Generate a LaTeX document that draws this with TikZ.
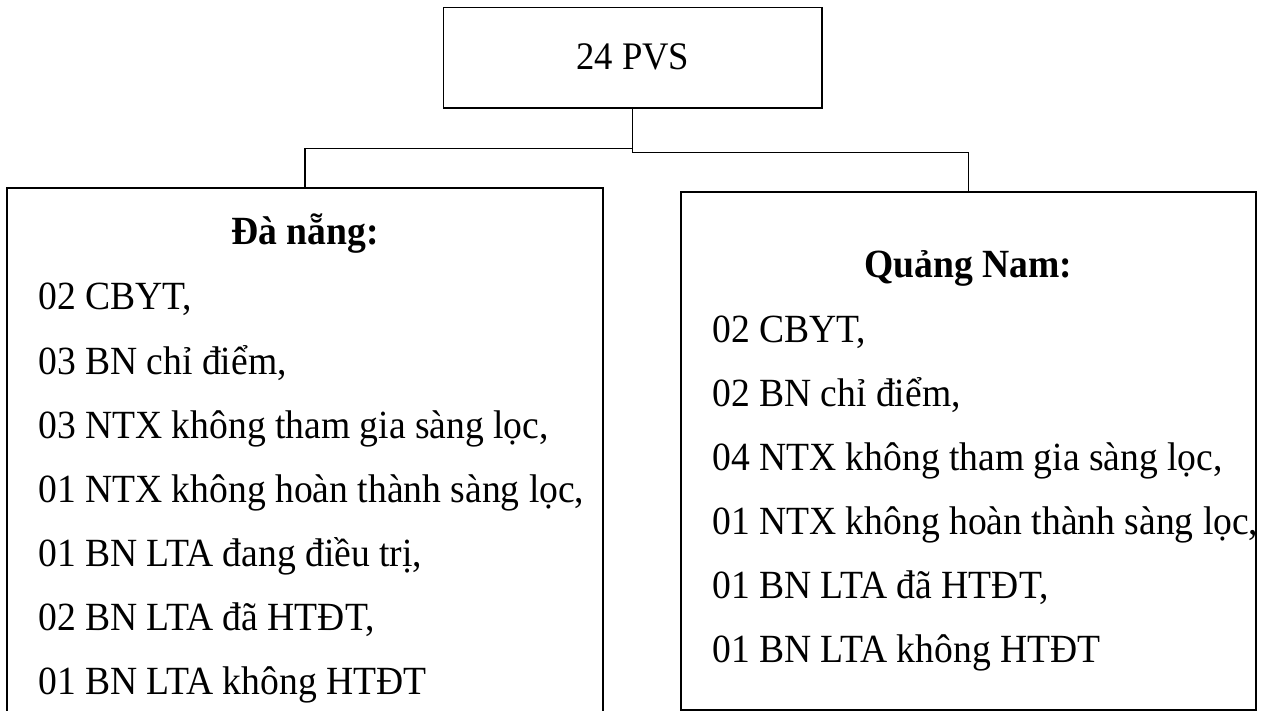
\documentclass[tikz,border=0pt]{standalone}
\usepackage{fontspec}
\usepackage{graphicx}
\setmainfont{Liberation Serif}
\newcommand{\narrowtxt}[1]{\scalebox{0.94}[1]{#1}}
\begin{document}
\begin{tikzpicture}[x=1pt,y=-1pt,
  box/.style={draw=black,line width=1.2pt,rectangle,inner sep=0pt},
  txt/.style={font=\fontsize{40}{48}\selectfont,inner sep=0pt,anchor=base west},
  head/.style={font=\fontsize{40}{48}\selectfont\bfseries,inner sep=0pt,anchor=base},
  conn/.style={draw=black,line width=1.2pt}]
\useasboundingbox (0,0) rectangle (1264,711);
\clip (0,0) rectangle (1264,711);
% boxes
\node[box,minimum width=378.5pt,minimum height=100.5pt] (top) at (632.75,57.75) {};
\node[box,minimum width=596pt,minimum height=542pt] (left) at (305,459) {};
\node[box,minimum width=575pt,minimum height=518pt] (right) at (968.5,451) {};
% top text
\node[head,font=\fontsize{39}{46}\selectfont] (ttop) at (632.75,70) {\narrowtxt{24 PVS}};
% connectors
\draw[conn] (top.south) -- ++(0,40) -| (left.north);
\draw[conn] (top.south) -- ++(0,44) -| (right.north);
% left text
\node[head] (lh) at (305,245) {\narrowtxt{Đà nẵng:}};
\node[txt] (l1) at (38,310) {\narrowtxt{02 CBYT,}};
\node[txt] (l2) at (38,374) {\narrowtxt{03 BN chỉ điểm,}};
\node[txt] (l3) at (38,438) {\narrowtxt{03 NTX không tham gia sàng lọc,}};
\node[txt] (l4) at (38,502) {\narrowtxt{01 NTX không hoàn thành sàng lọc,}};
\node[txt] (l5) at (38,566) {\narrowtxt{01 BN LTA đang điều trị,}};
\node[txt] (l6) at (38,630) {\narrowtxt{02 BN LTA đã HTĐT,}};
\node[txt] (l7) at (38,694) {\narrowtxt{01 BN LTA không HTĐT}};
% right text
\node[head] (rh) at (968.5,278) {\narrowtxt{Quảng Nam:}};
\node[txt] (r1) at (712,342) {\narrowtxt{02 CBYT,}};
\node[txt] (r2) at (712,406) {\narrowtxt{02 BN chỉ điểm,}};
\node[txt] (r3) at (712,470) {\narrowtxt{04 NTX không tham gia sàng lọc,}};
\node[txt] (r4) at (712,534) {\narrowtxt{01 NTX không hoàn thành sàng lọc,}};
\node[txt] (r5) at (712,598) {\narrowtxt{01 BN LTA đã HTĐT,}};
\node[txt] (r6) at (712,662) {\narrowtxt{01 BN LTA không HTĐT}};
\end{tikzpicture}
\end{document}
